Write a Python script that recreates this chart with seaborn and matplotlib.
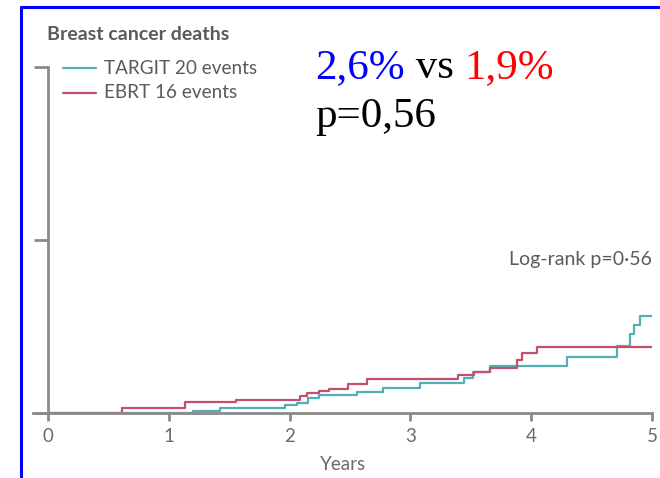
import matplotlib
matplotlib.use("Agg")
import matplotlib.pyplot as plt
from matplotlib.lines import Line2D
import numpy as np
import pandas as pd
import seaborn as sns

# Cumulative breast cancer deaths (%) over follow-up (years), step functions
targit_years = [0.0, 1.20, 1.42, 1.96, 2.06, 2.15, 2.24, 2.56, 2.77, 3.08, 3.44, 3.52, 3.66, 4.30, 4.71, 4.82, 4.85, 4.90, 5.0]
targit_pct = [0.0, 0.06, 0.15, 0.23, 0.29, 0.44, 0.52, 0.61, 0.73, 0.87, 1.02, 1.19, 1.37, 1.63, 1.95, 2.27, 2.53, 2.79, 2.79]
ebrt_years = [0.0, 0.61, 1.13, 1.56, 2.09, 2.14, 2.24, 2.33, 2.48, 2.64, 3.39, 3.53, 3.66, 3.88, 3.92, 4.05, 5.0]
ebrt_pct = [0.0, 0.15, 0.32, 0.38, 0.49, 0.58, 0.64, 0.70, 0.84, 0.99, 1.10, 1.19, 1.31, 1.54, 1.72, 1.92, 1.92]

arm_labels = ["TARGIT 20 events", "EBRT 16 events"]
x_ticks = [0, 1, 2, 3, 4, 5]
y_ticks = [0, 5, 10]

df = pd.concat([
    pd.DataFrame({"Years": targit_years, "Deaths": targit_pct, "Arm": arm_labels[0]}),
    pd.DataFrame({"Years": ebrt_years, "Deaths": ebrt_pct, "Arm": arm_labels[1]}),
])

sns.set_theme(style="white")
plt.rcParams["font.family"] = ["Lato", "DejaVu Sans"]

W, H = 660, 478
fig = plt.figure(figsize=(W / 100, H / 100), dpi=100)

x0_px, x5_px = 48, 652
y0_px, y10_px = 413, 67
left_px = 33
per_year = (x5_px - x0_px) / 5.0
xmin = -(x0_px - left_px) / per_year
ax = fig.add_axes([left_px / W, (H - y0_px) / H, (x5_px - left_px) / W, (y0_px - y10_px) / H])

palette = {arm_labels[0]: "#4fb0b4", arm_labels[1]: "#c5506b"}
sns.lineplot(data=df, x="Years", y="Deaths", hue="Arm", palette=palette,
             drawstyle="steps-post", linewidth=1.6, ax=ax, legend=False,
             estimator=None, sort=False)

ax.set_xlim(xmin, 5.0)
ax.set_ylim(0, 10)
axis_col = "#8a8a8a"
for s in ["top", "right"]:
    ax.spines[s].set_visible(False)
ax.spines["left"].set_position(("data", 0))
for s in ["left", "bottom"]:
    ax.spines[s].set_color(axis_col)
    ax.spines[s].set_linewidth(2)
ax.set_xticks(x_ticks)
ax.set_xticklabels([str(t) for t in x_ticks])
ax.set_yticks(y_ticks)
ax.set_yticklabels([])
ax.tick_params(axis="y", direction="out", length=10, width=2, color=axis_col, left=True)
ax.tick_params(axis="x", direction="out", length=6, width=2, color=axis_col, bottom=True,
               pad=5, labelsize=13.5, labelcolor="#6b6b6b")
ax.set_xlabel("Years", fontsize=13.5, color="#6b6b6b", labelpad=8)
ax.set_ylabel("")
ax.patch.set_alpha(0)

# Panel heading and legend
txt_col = "#5a5a5a"
fig.text(47 / W, 1 - 35 / H, "Breast cancer deaths", fontsize=14, fontweight="bold",
         color=txt_col, va="center", ha="left")
for i, lab in enumerate(arm_labels):
    yy = 1 - (68 + 25 * i) / H
    fig.add_artist(Line2D([63 / W, 96 / W], [yy, yy], color=palette[lab], lw=1.6))
    fig.text(104 / W, yy, lab, fontsize=13.6, color=txt_col, va="center", ha="left")

ax.text(5.0, 5 - 19 / 34.4, "Log-rank p=0\u00b756", fontsize=14, color=txt_col,
        ha="right", va="center")

# Summary annotation
serif = ["Liberation Serif", "DejaVu Serif"]
t1 = fig.text(315 / W, 1 - 78 / H, "2,6%", fontsize=31, color="#0000ff", family=serif,
              ha="left", va="baseline")
fig.canvas.draw()
r = fig.canvas.get_renderer()
bb = t1.get_window_extent(r)
t2 = fig.text(bb.x1 / W, 1 - 78 / H, " vs ", fontsize=31, color="black", family=serif,
              ha="left", va="baseline")
bb2 = t2.get_window_extent(r)
fig.text(bb2.x1 / W, 1 - 78 / H, "1,9%", fontsize=31, color="#ff0000", family=serif,
         ha="left", va="baseline")
fig.text(315 / W, 1 - 127 / H, "p=0,56", fontsize=31, color="black", family=serif,
         ha="left", va="baseline")

# Blue slide frame
fig.add_artist(Line2D([21 / W, 21 / W], [0, 1 - 7 / H], color="#0000ff", lw=2.2))
fig.add_artist(Line2D([21 / W, 1], [1 - 7 / H, 1 - 7 / H], color="#0000ff", lw=2.2))

fig.savefig("out.png", dpi=100)
